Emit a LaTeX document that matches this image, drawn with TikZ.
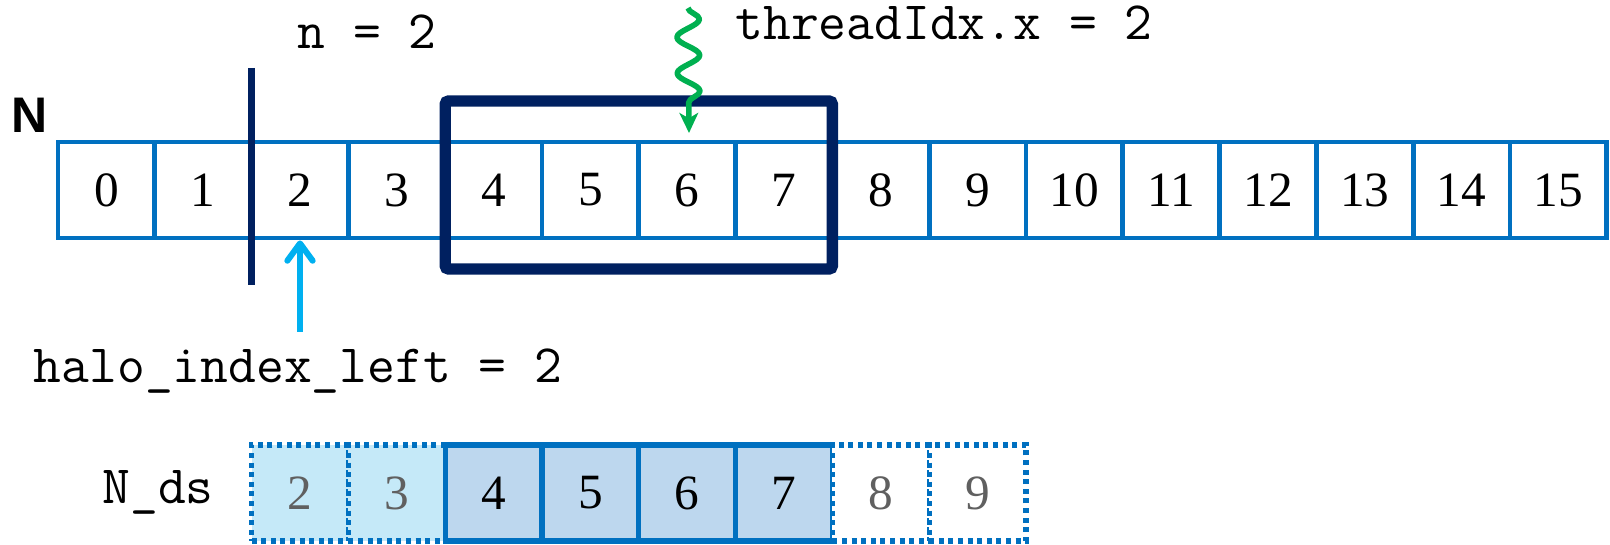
\documentclass[tikz,border=0pt]{standalone}
\usepackage{fontspec}
\newfontfamily\digitfont{Liberation Serif}
\newfontfamily\labelsans{Liberation Sans}
\usetikzlibrary{arrows.meta,decorations.pathmorphing}

\definecolor{cellblue}{HTML}{0070C0}
\definecolor{navy}{HTML}{002060}
\definecolor{threadgreen}{HTML}{00B050}
\definecolor{haloarrowblue}{HTML}{00B0F0}
\definecolor{halofill}{HTML}{C5E9F8}
\definecolor{corefill}{HTML}{BDD7EE}
\definecolor{ghostgrey}{HTML}{606060}

\tikzset{
  cell/.style={draw=cellblue, line width=3.6pt, minimum width=72.6pt,
    minimum height=72pt, inner sep=0pt,
    font=\digitfont\fontsize{37pt}{40pt}\selectfont},
  halocell/.style={cell, line width=4pt, fill=halofill, text=ghostgrey, dash pattern=on 3.8pt off 3.4pt},
  corecell/.style={cell, line width=4pt, fill=corefill},
  ghostcell/.style={cell, line width=4pt, fill=white, text=ghostgrey, dash pattern=on 3.8pt off 3.4pt},
  code/.style={font=\ttfamily\fontsize{40.5pt}{48pt}\selectfont, inner sep=0pt, anchor=base},
  arrayname/.style={font=\labelsans\bfseries\fontsize{37.5pt}{42pt}\selectfont, inner sep=0pt, anchor=base},
  blockbox/.style={draw=navy, line width=8.5pt, rounded corners=2.5pt},
  cutline/.style={draw=navy, line width=5.5pt},
  haloarrow/.style={draw=haloarrowblue, line width=4.5pt,
    -{Straight Barb[length=13pt, width=19pt, line cap=round, round]}},
  threadarrow/.style={draw=threadgreen, line width=4.2pt, line join=round,
    -{Stealth[length=15pt, width=14pt, inset=4pt]},
    decorate, decoration={snake, segment length=27pt, amplitude=8.5pt, post length=14pt}},
}

\begin{document}
\begin{tikzpicture}[x=0.75pt, y=-0.75pt]
  \useasboundingbox (0,0) rectangle (1610,545);

  % the input array N
  \foreach \k in {0,...,15}
    \node[cell] (t\k) at ({58+96.8*(\k+0.5)},190) {\k};
  \node[arrayname] (Nname) at (30,133) {N};

  % the shared-memory array N_ds: halo, block cells, halo
  \node[halocell]  (b2) at ({58+96.8*2.5},493) {2};
  \node[halocell]  (b3) at ({58+96.8*3.5},493) {3};
  \node[corecell]  (b4) at ({58+96.8*4.5},493) {4};
  \node[corecell]  (b5) at ({58+96.8*5.5},493) {5};
  \node[corecell]  (b6) at ({58+96.8*6.5},493) {6};
  \node[corecell]  (b7) at ({58+96.8*7.5},493) {7};
  \node[ghostcell] (b8) at ({58+96.8*8.5},493) {8};
  \node[ghostcell] (b9) at ({58+96.8*9.5},493) {9};
  \node[code] (ndsname) at (158,503) {N\_ds};

  % the thread block and the halo cut
  \draw[blockbox] (445.2,101) rectangle (832.4,269);
  \coordinate (cutTop) at (251.6,68);
  \coordinate (cutBot) at (251.6,285);
  \draw[cutline] (cutTop) -- (cutBot);

  % labels
  \node[code] (nlabel) at (367,49) {n = 2};
  \node[code] (tidlabel) at (944,40) {threadIdx.x = 2};
  \node[code] (halolabel) at (298,382) {halo\_index\_left = 2};

  % pointers
  \coordinate (haloTail) at (300,332);
  \draw[haloarrow] (haloTail) -- (t2.south);
  \coordinate (threadStart) at (688,8);
  \coordinate (threadTip) at (689,133);
  \draw[threadarrow] (threadStart) -- (threadTip);
\end{tikzpicture}
\end{document}
